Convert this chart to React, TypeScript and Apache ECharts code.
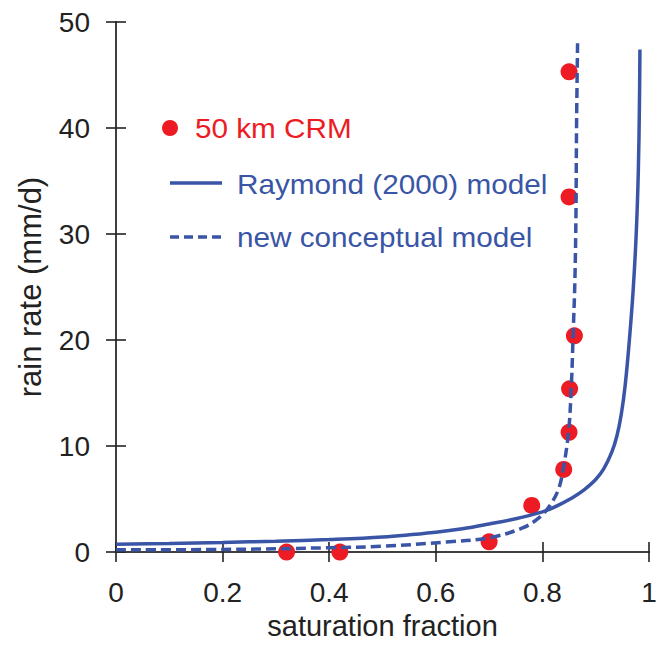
import React, { useEffect, useRef } from "react";
import * as echarts from "echarts";

// 50 km CRM points
const crmX = [0.32, 0.42, 0.70, 0.78, 0.84, 0.85, 0.851, 0.86, 0.85, 0.85];
const crmY = [0, 0, 0.97, 4.4, 7.8, 11.3, 15.4, 20.4, 33.5, 45.3];

// Raymond (2000) model (solid)
const raymondX = [0, 0.1, 0.2, 0.3, 0.4, 0.5, 0.6, 0.65, 0.7, 0.75, 0.8, 0.814, 0.833, 0.86, 0.88, 0.9, 0.915, 0.93, 0.94, 0.948, 0.955, 0.962, 0.97, 0.976, 0.98, 0.982, 0.983];
const raymondY = [0.75, 0.82, 0.91, 1.03, 1.18, 1.42, 1.88, 2.2, 2.65, 3.15, 3.8, 4.05, 4.5, 5.25, 5.95, 6.85, 7.85, 9.4, 11.0, 13.0, 15.6, 19.3, 24.5, 30.0, 36.0, 42.0, 47.4];

// new conceptual model (dashed)
const newX = [0, 0.2, 0.4, 0.5, 0.62, 0.7, 0.764, 0.795, 0.814, 0.83, 0.839, 0.849, 0.854, 0.858, 0.861, 0.863, 0.864, 0.866];
const newY = [0.22, 0.25, 0.41, 0.55, 0.95, 1.35, 2.3, 3.3, 4.4, 5.9, 7.8, 11.3, 15.3, 21.0, 25.7, 32.0, 39.8, 48.0];

const xTicks = [0, 0.2, 0.4, 0.6, 0.8, 1];
const yTicks = [0, 10, 20, 30, 40, 50];

const nameCRM = "50 km CRM";
const nameRaymond = "Raymond (2000) model";
const nameNew = "new conceptual model";
const xName = "saturation fraction";
const yName = "rain rate (mm/d)";

const RED = "#ed1c24";
const BLUE = "#3a55a6";
const FONT = "'Liberation Sans', Arial, sans-serif";

export default function App() {
  const ref = useRef<HTMLDivElement>(null);
  useEffect(() => {
    if (!ref.current) return;
    const chart = echarts.init(ref.current, null, { renderer: "svg" });
    const axisLine = { show: true, lineStyle: { color: "#3f3f3f", width: 1.8 } };
    const axisTick = { show: true, inside: false, length: 10, lineStyle: { color: "#222", width: 1.6 } };
    const xFmt = (v: number) => (xTicks.includes(Math.round(v * 10) / 10) ? String(Math.round(v * 10) / 10) : "");
    const legendText = (x: number, y: number, text: string, fill: string) => ({
      type: "text", x, y, scaleX: 1.1, z: 10,
      style: { text, fill, fontSize: 27, fontFamily: FONT, verticalAlign: "middle" },
    });
    chart.setOption({
      animation: false,
      textStyle: { fontFamily: FONT },
      grid: { left: 116, top: 22, right: 16, bottom: 92 },
      xAxis: [
        {
          type: "value", min: xTicks[0], max: xTicks[xTicks.length - 1], interval: 0.2,
          axisLine, axisTick, splitLine: { show: false },
          axisLabel: { margin: 26, fontSize: 28, color: "#222", fontFamily: FONT, formatter: xFmt },
          name: xName, nameLocation: "middle", nameGap: 56,
          nameTextStyle: { fontSize: 29, color: "#222", fontFamily: FONT },
        },
        {
          type: "value", position: "top", min: xTicks[0], max: xTicks[xTicks.length - 1], interval: 0.2,
          axisLine, axisTick, splitLine: { show: false }, axisLabel: { show: false },
        },
      ],
      yAxis: [
        {
          type: "value", min: yTicks[0], max: yTicks[yTicks.length - 1], interval: 10,
          axisLine, axisTick, splitLine: { show: false },
          axisLabel: { margin: 26, fontSize: 28, color: "#222", fontFamily: FONT },
          name: yName, nameLocation: "middle", nameGap: 70,
          nameTextStyle: { fontSize: 31, color: "#222", fontFamily: FONT },
        },
        {
          type: "value", position: "right", min: yTicks[0], max: yTicks[yTicks.length - 1], interval: 10,
          axisLine, axisTick, splitLine: { show: false }, axisLabel: { show: false },
        },
      ],
      series: [
        {
          name: nameCRM, type: "scatter", symbol: "circle", symbolSize: 17, z: 2,
          itemStyle: { color: RED, opacity: 1 },
          data: crmX.map((x, i) => [x, crmY[i]]),
        },
        {
          name: nameRaymond, type: "line", showSymbol: false, symbol: "none", z: 3,
          smooth: 0.35,
          lineStyle: { color: BLUE, width: 3.5 },
          data: raymondX.map((x, i) => [x, raymondY[i]]),
        },
        {
          name: nameNew, type: "line", showSymbol: false, symbol: "none", z: 3,
          smooth: 0.35,
          lineStyle: { color: BLUE, width: 3.5, type: [10, 5] },
          data: newX.map((x, i) => [x, newY[i]]),
        },
      ],
      graphic: [
        { type: "circle", shape: { cx: 170, cy: 128, r: 8 }, style: { fill: RED }, z: 10 },
        legendText(195, 128, nameCRM, RED),
        { type: "line", shape: { x1: 170, y1: 183, x2: 222, y2: 183 }, style: { stroke: BLUE, lineWidth: 3.5 }, z: 10 },
        legendText(237, 184, nameRaymond, BLUE),
        { type: "line", shape: { x1: 170, y1: 237, x2: 222, y2: 237 }, style: { stroke: BLUE, lineWidth: 3.5, lineDash: [9, 5] }, z: 10 },
        legendText(237, 237, nameNew, BLUE),
      ],
    });
    return () => chart.dispose();
  }, []);
  return <div ref={ref} style={{ width: 665, height: 645, position: "absolute", left: 0, top: 0 }} />;
}
